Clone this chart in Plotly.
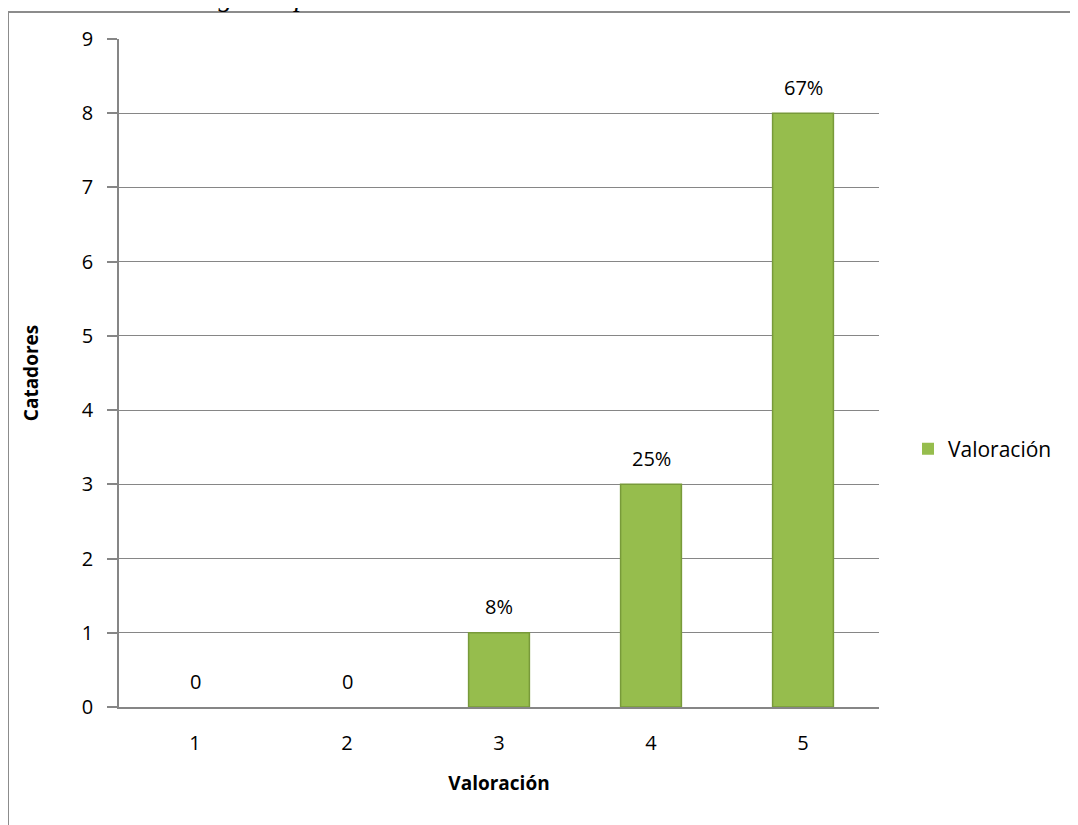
import plotly.graph_objects as go

categories = ["1", "2", "3", "4", "5"]
values = [0, 0, 1, 3, 8]
labels = ["0", "0", "8%", "25%", "67%"]
y_ticks = list(range(0, 10))
series_name = "Valoración"
x_title = "Valoración"
y_title = "Catadores"
caption = "Características organolépticas: Textura"

OFF = 8  # page body margin
W, H = 1078 - OFF, 825 - OFF
# plot area in screen pixels
SX0, SX1, SY0, SY1 = 119, 879, 39, 707
L, R, T = SX0 - OFF, W - (SX1 - OFF), SY0 - OFF
B = H - (SY1 - OFF)
pw, ph = SX1 - SX0, SY1 - SY0

def px(x):  # screen x -> paper
    return (x - SX0) / pw

def py(y):  # screen y -> paper
    return (SY1 - y) / ph

FONT = "Open Sans, Liberation Sans, sans-serif"

fig = go.Figure()
fig.add_trace(go.Bar(
    x=categories, y=values, name=series_name,
    marker=dict(color="#96bd4d",
                line=dict(color="#789a3a", width=[0 if v == 0 else 1.5 for v in values])),
    width=0.4, showlegend=True,
))

# value labels above each bar (category axis: position by category index)
annotations = [dict(x=i, y=v, text=t, xref="x", yref="y", showarrow=False,
                    yanchor="middle", yshift=26,
                    font=dict(size=20, color="#000000", family=FONT))
               for i, (v, t) in enumerate(zip(values, labels))]
annotations.append(dict(text="<i>" + caption + "</i>", xref="paper", yref="paper",
                        x=px(464), y=py(14), xanchor="right", yanchor="bottom",
                        showarrow=False,
                        font=dict(family="Liberation Serif, serif", size=28, color="#000000")))

fig.update_layout(
    width=W, height=H,
    margin=dict(l=L, r=R, t=T, b=B),
    paper_bgcolor="white", plot_bgcolor="white",
    font=dict(family=FONT, size=20, color="#000000"),
    showlegend=True,
    legend=dict(x=px(908), y=py(449), xanchor="left", yanchor="middle",
                font=dict(size=21), bgcolor="rgba(0,0,0,0)"),
    xaxis=dict(
        type="category", showline=True, linecolor="#868686", linewidth=1.5,
        ticks="", showgrid=False, ticklabelstandoff=17,
        range=[-0.5, len(categories) - 0.5],
        title=dict(text=f"<b>{x_title}</b>", font=dict(size=19), standoff=22),
        tickfont=dict(size=20),
    ),
    yaxis=dict(
        range=[0, 9], tickvals=y_ticks, showline=True, linecolor="#868686", linewidth=1.5,
        ticks="outside", ticklen=10, tickcolor="#868686", tickwidth=1.5,
        ticklabelstandoff=10,
        showgrid=True, gridcolor="#868686", gridwidth=1, zeroline=False,
        title=dict(text=f"<b>{y_title}</b>", font=dict(size=19), standoff=38),
        tickfont=dict(size=20),
    ),
    shapes=[dict(type="rect", xref="paper", yref="paper",
                 x0=px(8), x1=px(1100), y0=py(850), y1=py(12),
                 line=dict(color="#8c8c8c", width=2), layer="below")],
    annotations=annotations,
)

fig.write_html("out.html")
